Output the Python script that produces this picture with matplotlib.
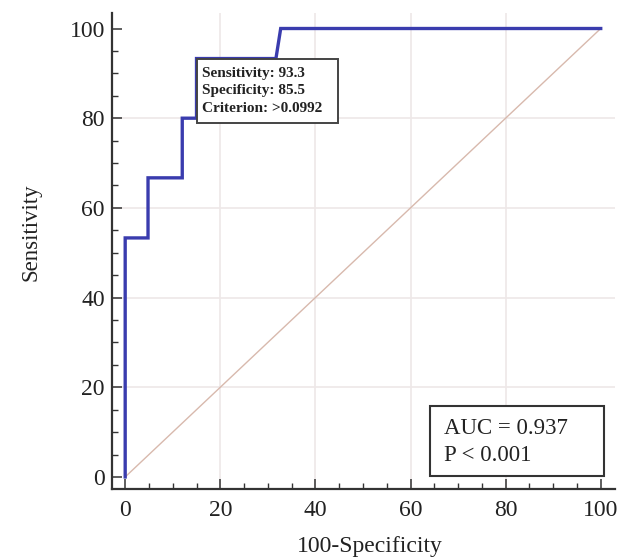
import matplotlib
matplotlib.use("Agg")
import matplotlib.pyplot as plt
from matplotlib.patches import Rectangle

# ROC curve points (100-Specificity, Sensitivity)
fpr = [0, 0, 4.8, 4.8, 12, 12, 15.0, 15.0, 31.7, 32.7, 100]
tpr = [0, 53.3, 53.3, 66.7, 66.7, 80, 80, 93.3, 93.3, 100, 100]
ticks = [0, 20, 40, 60, 80, 100]

cut_sens = 93.3
cut_spec = 85.5
criterion = ">0.0992"
auc = 0.937

plt.rcParams['font.family'] = ['Liberation Serif', 'DejaVu Serif']

fig = plt.figure(figsize=(6.25, 5.57), dpi=100)
ax = fig.add_axes([0.179, 0.122, 0.805, 0.855])

# grid and reference diagonal
for t in ticks[1:-1]:
    ax.axvline(t, color='#eee8e8', lw=1.2, zorder=0)
    ax.axhline(t, color='#eee8e8', lw=1.2, zorder=0)
ax.plot([0, 100], [0, 100], color='#d8b9ad', lw=1.0, zorder=1)

ax.plot(fpr, tpr, color='#3a3cae', lw=2.4, zorder=3, solid_joinstyle='miter')

ax.set_xlim(-2.8, 103)
ax.set_ylim(-2.7, 103.5)
ax.set_xticks(ticks)
ax.set_yticks(ticks)
ax.set_xticks(range(0, 101, 5), minor=True)
ax.set_yticks(range(0, 101, 5), minor=True)
for s in ['top', 'right']:
    ax.spines[s].set_visible(False)
for s in ['left', 'bottom']:
    ax.spines[s].set_linewidth(1.6)
    ax.spines[s].set_color('#333333')
ax.tick_params(which='major', direction='in', length=7, width=1.1, color='#333333',
               labelsize=17, labelcolor='#222222')
ax.tick_params(which='minor', direction='in', length=4, width=1.0, color='#333333')
ax.tick_params(axis='x', which='major', pad=8)
ax.tick_params(axis='y', which='major', pad=5)

ax.set_xlabel('100-Specificity', fontsize=17, color='#222222')
ax.set_ylabel('Sensitivity', fontsize=16.5, color='#222222')
ax.xaxis.set_label_coords(0.512, -0.098)
ax.yaxis.set_label_coords(-0.14, 0.54)

# criterion box
ax.add_patch(Rectangle((15.1, 79.0), 29.6, 14.3, fc='white', ec='#444444', lw=1.4, zorder=5))
ax.text(16.2, 89.1, f"Sensitivity: {cut_sens}", fontsize=11, fontweight='bold',
        color='#222222', va='baseline', zorder=6)
ax.text(16.2, 85.3, f"Specificity: {cut_spec}", fontsize=11, fontweight='bold',
        color='#222222', va='baseline', zorder=6)
ax.text(16.2, 81.3, f"Criterion: {criterion}", fontsize=11, fontweight='bold',
        color='#222222', va='baseline', zorder=6)

# AUC box
ax.add_patch(Rectangle((64.1, 0.2), 36.5, 15.6, fc='white', ec='#333333', lw=1.5, zorder=5))
ax.text(67, 9.5, f"AUC = {auc}", fontsize=16.5, color='#222222', va='baseline', zorder=6)
ax.text(67, 3.5, "P < 0.001", fontsize=16.5, color='#222222', va='baseline', zorder=6)

fig.savefig("out.png", dpi=100)
